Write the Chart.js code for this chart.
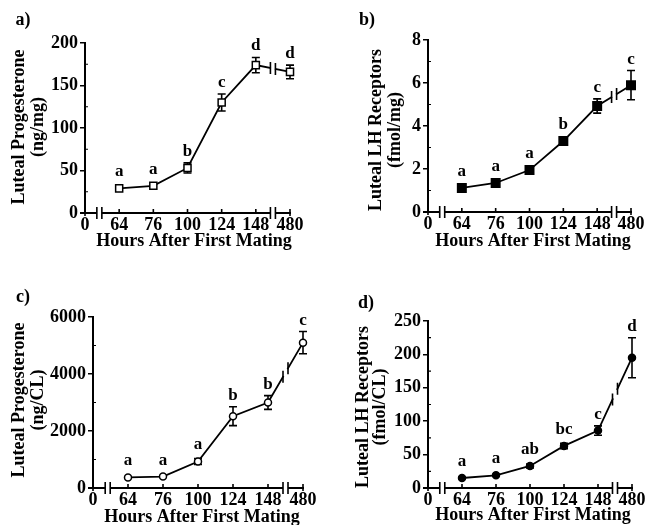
<!DOCTYPE html>
<html><head><meta charset="utf-8">
<script src="https://cdn.jsdelivr.net/npm/chart.js@4/dist/chart.umd.min.js"></script>
<style>
html,body{margin:0;padding:0;background:#fff;}
#wrap{position:relative;width:654px;height:525px;overflow:hidden;}
canvas{position:absolute;left:0;top:0;}
</style></head><body><div id="wrap">
<canvas id="ca" width="654" height="525"></canvas>
<canvas id="cb" width="654" height="525"></canvas>
<canvas id="cc" width="654" height="525"></canvas>
<canvas id="cd" width="654" height="525"></canvas>
</div>
<script>
// ---------- data ----------
const hours = ['0','64','76','100','124','148','480'];
const xTitle = 'Hours After First Mating';

// a) luteal progesterone, ng/mg
const progPerMg        = [29, 32, 53, 130, 174, 166];
const progPerMgSem     = [0, 0, 6, 10, 9, 8];
const progPerMgLetters = ['a','a','b','c','d','d'];
const progPerMgTicks   = [0, 50, 100, 150, 200];

// b) luteal LH receptors, fmol/mg
const lhPerMg        = [1.12, 1.35, 1.95, 3.3, 4.93, 5.9];
const lhPerMgSem     = [0, 0, 0.15, 0.15, 0.33, 0.68];
const lhPerMgLetters = ['a','a','a','b','c','c'];
const lhPerMgTicks   = [0, 2, 4, 6, 8];

// c) luteal progesterone, ng/CL
const progPerCL        = [370, 400, 930, 2520, 3000, 5100];
const progPerCLSem     = [0, 0, 100, 330, 240, 390];
const progPerCLLetters = ['a','a','a','b','b','c'];
const progPerCLTicks   = [0, 2000, 4000, 6000];

// d) luteal LH receptors, fmol/CL
const lhPerCL        = [15, 19, 33, 63, 86, 195];
const lhPerCLSem     = [0, 0, 3, 4, 7, 30];
const lhPerCLLetters = ['a','a','ab','bc','c','d'];
const lhPerCLTicks   = [0, 50, 100, 150, 200, 250];

// ---------- drawing ----------
const FONT = '"Liberation Serif","Times New Roman",serif';

const decor = {
  id: 'decor',
  beforeDatasetsDraw(chart, args, o) {
    const ctx = chart.ctx, xs = chart.scales.x, ys = chart.scales.y;
    const vals = chart.data.datasets[0].data;
    ctx.save();
    ctx.strokeStyle = '#000'; ctx.lineWidth = 1.6;
    for (let i = 1; i < vals.length; i++) {
      const e = o.errs[i - 1];
      if (!e) continue;
      const x = xs.getPixelForValue(i);
      const yt = ys.getPixelForValue(vals[i] + e), yb = ys.getPixelForValue(vals[i] - e);
      ctx.beginPath();
      ctx.moveTo(x, yt); ctx.lineTo(x, yb);
      ctx.moveTo(x - 4, yt); ctx.lineTo(x + 4, yt);
      ctx.moveTo(x - 4, yb); ctx.lineTo(x + 4, yb);
      ctx.stroke();
    }
    const meta = chart.getDatasetMeta(0);
    const p1 = meta.data[5], p2 = meta.data[6];
    const bx = (p1.x + p2.x) / 2;
    const yAt = x => p1.y + (p2.y - p1.y) * (x - p1.x) / (p2.x - p1.x);
    o._brk = {bx, yAt};
    ctx.restore();
  },
  afterDatasetsDraw(chart, args, o) {
    const ctx = chart.ctx, xs = chart.scales.x, ys = chart.scales.y;
    const vals = chart.data.datasets[0].data;
    ctx.save();
    // break on the data line between 148 and 480
    const b = o._brk;
    ctx.strokeStyle = '#fff'; ctx.lineWidth = 5;
    ctx.beginPath(); ctx.moveTo(b.bx - 2, b.yAt(b.bx - 2)); ctx.lineTo(b.bx + 2, b.yAt(b.bx + 2)); ctx.stroke();
    ctx.strokeStyle = '#000'; ctx.lineWidth = 1.6;
    ctx.beginPath();
    [b.bx - 2.5, b.bx + 2.5].forEach(x => { const y = b.yAt(x); ctx.moveTo(x, y - 6); ctx.lineTo(x, y + 6); });
    ctx.stroke();
    // significance letters
    ctx.fillStyle = '#000';
    ctx.font = 'bold 17px ' + FONT;
    ctx.textAlign = 'center'; ctx.textBaseline = 'alphabetic';
    for (let i = 1; i < vals.length; i++) {
      const x = xs.getPixelForValue(i);
      const e = o.errs[i - 1] || 0;
      const top = Math.min(ys.getPixelForValue(vals[i] + e), ys.getPixelForValue(vals[i]) - 5);
      ctx.fillText(o.letters[i - 1], x, top - 7);
    }
    ctx.restore();
  },
  afterDraw(chart, args, o) {
    const ctx = chart.ctx, xs = chart.scales.x, ys = chart.scales.y;
    const ca = chart.chartArea;
    ctx.save();
    ctx.strokeStyle = '#000';
    // x axis with breaks
    const y0 = ca.bottom;
    const x0 = xs.getPixelForValue(0), x1 = xs.getPixelForValue(1);
    const x5 = xs.getPixelForValue(5), x6 = xs.getPixelForValue(6);
    const b1 = x0 + (x1 - x0) * 0.42, b2 = (x5 + x6) / 2;
    ctx.lineWidth = 2;
    ctx.beginPath();
    ctx.moveTo(ca.left - 5, y0); ctx.lineTo(b1 - 2.5, y0);
    ctx.moveTo(b1 + 2.5, y0); ctx.lineTo(b2 - 2.5, y0);
    ctx.moveTo(b2 + 2.5, y0); ctx.lineTo(x6 + 1, y0);
    ctx.stroke();
    ctx.lineWidth = 1.6;
    ctx.beginPath();
    [b1 - 2.5, b1 + 2.5, b2 - 2.5, b2 + 2.5].forEach(x => { ctx.moveTo(x, y0 - 6); ctx.lineTo(x, y0 + 6); });
    for (let i = 1; i <= 6; i++) { const x = xs.getPixelForValue(i); ctx.moveTo(x, y0); ctx.lineTo(x, y0 - 4); }
    ctx.moveTo(x0, y0); ctx.lineTo(x0, y0 + 3);
    ctx.moveTo(x6, y0); ctx.lineTo(x6, y0 + 3);
    ctx.stroke();
    // minor y ticks
    ctx.lineWidth = 1.2;
    ctx.beginPath();
    const t = o.ticks;
    for (let k = 0; k < t.length - 1; k++) {
      const y = ys.getPixelForValue((t[k] + t[k + 1]) / 2);
      ctx.moveTo(ca.left, y); ctx.lineTo(ca.left + 3, y);
    }
    ctx.stroke();
    // texts
    ctx.fillStyle = '#000';
    ctx.font = 'bold 18px ' + FONT;
    ctx.textAlign = 'center'; ctx.textBaseline = 'middle';
    ctx.fillText(o.panel, o.panelPos[0], o.panelPos[1]);
    ctx.fillText(xTitle, o.xTitlePos[0], o.xTitlePos[1]);
    for (let k = 0; k < 2; k++) {
      ctx.save();
      ctx.translate(o.yTitlePos[k], o.yTitlePos[2]);
      ctx.rotate(-Math.PI / 2);
      ctx.fillText(o.yTitle[k], 0, 0);
      ctx.restore();
    }
    ctx.restore();
  }
};

function makePanel(id, p) {
  new Chart(document.getElementById(id), {
    type: 'line',
    data: {
      labels: hours,
      datasets: [{
        data: [null].concat(p.values),
        borderColor: '#000', borderWidth: 1.8, tension: 0,
        pointStyle: p.pointStyle, pointRadius: p.pointRadius,
        pointBackgroundColor: p.filled ? '#000' : '#fff',
        pointBorderColor: '#000', pointBorderWidth: 1.5
      }]
    },
    options: {
      responsive: false, animation: false, events: [],
      layout: { padding: p.pad },
      plugins: {
        legend: { display: false }, tooltip: { enabled: false },
        decor: { errs: p.errs, letters: p.letters, ticks: p.ticks, panel: p.panel,
                 panelPos: p.panelPos, xTitlePos: p.xTitlePos, yTitle: p.yTitle, yTitlePos: p.yTitlePos }
      },
      scales: {
        x: {
          type: 'category', offset: false,
          grid: { display: false, drawTicks: false }, border: { display: false },
          ticks: { color: '#000', font: { family: FONT, size: 18, weight: 'bold' }, padding: 2, maxRotation: 0, autoSkip: false },
          afterFit: s => { s.height = 30; s.paddingLeft = 0; s.paddingRight = 0; }
        },
        y: {
          min: p.ticks[0], max: p.ticks[p.ticks.length - 1],
          afterBuildTicks: s => { s.ticks = p.ticks.map(v => ({ value: v })); },
          ticks: { color: '#000', font: { family: FONT, size: 18, weight: 'bold' }, padding: 2,
                   callback: v => String(v) },
          grid: { display: true, drawOnChartArea: false, drawTicks: true, tickLength: 5, color: '#000', lineWidth: 1.5 },
          border: { display: true, color: '#000', width: 2 },
          afterFit: s => { s.width = 60; s.paddingTop = 0; s.paddingBottom = 0; }
        }
      }
    },
    plugins: [decor]
  });
}

makePanel('ca', { values: progPerMg, errs: progPerMgSem, letters: progPerMgLetters, ticks: progPerMgTicks,
  pointStyle: 'rect', pointRadius: 5, filled: false,
  pad: { left: 25, right: 364, top: 43, bottom: 282 },
  panel: 'a)', panelPos: [23, 20], xTitlePos: [194, 241],
  yTitle: ['Luteal Progesterone', '(ng/mg)'], yTitlePos: [19, 38, 127] });

makePanel('cb', { values: lhPerMg, errs: lhPerMgSem, letters: lhPerMgLetters, ticks: lhPerMgTicks,
  pointStyle: 'rect', pointRadius: 6, filled: true,
  pad: { left: 368, right: 23, top: 40, bottom: 283 },
  panel: 'b)', panelPos: [367, 20], xTitlePos: [533, 241],
  yTitle: ['Luteal LH Receptors', '(fmol/mg)'], yTitlePos: [376, 395, 130] });

makePanel('cc', { values: progPerCL, errs: progPerCLSem, letters: progPerCLLetters, ticks: progPerCLTicks,
  pointStyle: 'circle', pointRadius: 3.5, filled: false,
  pad: { left: 33, right: 351, top: 317, bottom: 7 },
  panel: 'c)', panelPos: [23, 297], xTitlePos: [202, 517],
  yTitle: ['Luteal Progesterone', '(ng/CL)'], yTitlePos: [19, 38, 400] });

makePanel('cd', { values: lhPerCL, errs: lhPerCLSem, letters: lhPerCLLetters, ticks: lhPerCLTicks,
  pointStyle: 'circle', pointRadius: 3.5, filled: true,
  pad: { left: 368, right: 22, top: 321, bottom: 7 },
  panel: 'd)', panelPos: [366, 303], xTitlePos: [533, 515],
  yTitle: ['Luteal LH Receptors', '(fmol/CL)'], yTitlePos: [363, 380, 407] });
</script>
</body></html>
